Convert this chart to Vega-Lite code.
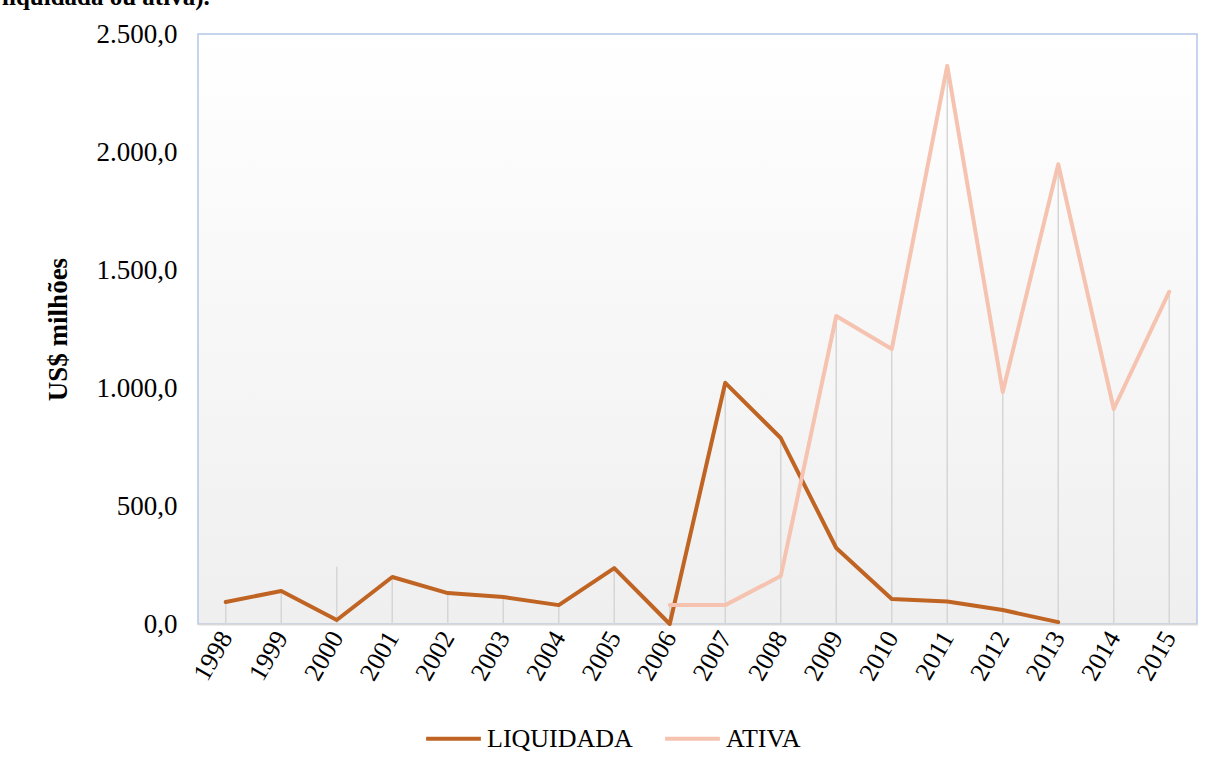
{
  "$schema": "https://vega.github.io/schema/vega-lite/v6.json",
  "autosize": "none",
  "width": 999,
  "height": 590,
  "padding": {"left": 198, "top": 34, "right": 20, "bottom": 147},
  "background": "white",
  "title": {
    "text": "liquidada ou ativa).",
    "anchor": "start",
    "frame": "group",
    "dx": -196,
    "offset": 0,
    "dy": 10,
    "baseline": "alphabetic",
    "font": "Liberation Serif",
    "fontSize": 25,
    "fontWeight": "bold",
    "color": "black"
  },
  "config": {
    "locale": {"number": {"decimal": ",", "thousands": ".", "grouping": [3], "currency": ["US$", ""]}},
    "view": {
      "stroke": "#B4C7E7",
      "strokeWidth": 1.5,
      "fill": {"gradient": "linear", "x1": 0, "y1": 0, "x2": 0, "y2": 1, "stops": [{"offset": 0, "color": "#FFFFFF"}, {"offset": 1, "color": "#EFEFEF"}]}
    },
    "font": "Liberation Serif"
  },
  "datasets": {
    "series": [
      {"ano": "1998", "serie": "LIQUIDADA", "valor": 93},
      {"ano": "1999", "serie": "LIQUIDADA", "valor": 140},
      {"ano": "2000", "serie": "LIQUIDADA", "valor": 17},
      {"ano": "2001", "serie": "LIQUIDADA", "valor": 199},
      {"ano": "2002", "serie": "LIQUIDADA", "valor": 131},
      {"ano": "2003", "serie": "LIQUIDADA", "valor": 114},
      {"ano": "2004", "serie": "LIQUIDADA", "valor": 80},
      {"ano": "2005", "serie": "LIQUIDADA", "valor": 237},
      {"ano": "2006", "serie": "LIQUIDADA", "valor": 0},
      {"ano": "2007", "serie": "LIQUIDADA", "valor": 1022},
      {"ano": "2008", "serie": "LIQUIDADA", "valor": 788},
      {"ano": "2009", "serie": "LIQUIDADA", "valor": 322},
      {"ano": "2010", "serie": "LIQUIDADA", "valor": 106},
      {"ano": "2011", "serie": "LIQUIDADA", "valor": 95},
      {"ano": "2012", "serie": "LIQUIDADA", "valor": 59},
      {"ano": "2013", "serie": "LIQUIDADA", "valor": 8},
      {"ano": "2006", "serie": "ATIVA", "valor": 80},
      {"ano": "2007", "serie": "ATIVA", "valor": 80},
      {"ano": "2008", "serie": "ATIVA", "valor": 203},
      {"ano": "2009", "serie": "ATIVA", "valor": 1305},
      {"ano": "2010", "serie": "ATIVA", "valor": 1165},
      {"ano": "2011", "serie": "ATIVA", "valor": 2365},
      {"ano": "2012", "serie": "ATIVA", "valor": 983},
      {"ano": "2013", "serie": "ATIVA", "valor": 1948},
      {"ano": "2014", "serie": "ATIVA", "valor": 911},
      {"ano": "2015", "serie": "ATIVA", "valor": 1408}
    ],
    "drops": [
      {"ano": "1998", "topo": 93},
      {"ano": "1999", "topo": 140},
      {"ano": "2000", "topo": 243},
      {"ano": "2001", "topo": 199},
      {"ano": "2002", "topo": 131},
      {"ano": "2003", "topo": 114},
      {"ano": "2004", "topo": 80},
      {"ano": "2005", "topo": 237},
      {"ano": "2006", "topo": 80},
      {"ano": "2007", "topo": 1022},
      {"ano": "2008", "topo": 788},
      {"ano": "2009", "topo": 1305},
      {"ano": "2010", "topo": 1165},
      {"ano": "2011", "topo": 2365},
      {"ano": "2012", "topo": 983},
      {"ano": "2013", "topo": 1948},
      {"ano": "2014", "topo": 911},
      {"ano": "2015", "topo": 1408}
    ]
  },
  "layer": [
    {
      "data": {"name": "drops"},
      "mark": {"type": "rule", "color": "#D6D6D6", "strokeWidth": 1.5},
      "encoding": {
        "x": {"field": "ano", "type": "ordinal", "scale": {"type": "point", "padding": 0.5}},
        "y": {"field": "topo", "type": "quantitative"},
        "y2": {"datum": 0}
      }
    },
    {
      "data": {"name": "series"},
      "mark": {"type": "line", "strokeWidth": 4, "strokeCap": "round", "strokeJoin": "round"},
      "encoding": {
        "x": {
          "field": "ano", "type": "ordinal",
          "scale": {"type": "point", "padding": 0.5},
          "title": null,
          "axis": {
            "labelAngle": -60,
            "labelFont": "Liberation Serif",
            "labelFontSize": 26,
            "labelColor": "black",
            "labelPadding": 9,
            "ticks": false,
            "domainColor": "#D9D9D9",
            "domainWidth": 2,
            "grid": false
          }
        },
        "y": {
          "field": "valor", "type": "quantitative",
          "scale": {"domain": [0, 2500], "nice": false},
          "title": "US$ milhões",
          "axis": {
            "values": [0, 500, 1000, 1500, 2000, 2500],
            "format": ",.1f",
            "labelFont": "Liberation Serif",
            "labelFontSize": 27,
            "labelColor": "black",
            "labelPadding": 21,
            "ticks": false,
            "domain": false,
            "grid": false,
            "titleFont": "Liberation Serif",
            "titleFontSize": 27,
            "titleFontWeight": "bold",
            "titleColor": "black",
            "titlePadding": 24
          }
        },
        "color": {
          "field": "serie", "type": "nominal",
          "scale": {"domain": ["LIQUIDADA", "ATIVA"], "range": ["#C06424", "#F5C3AF"]},
          "legend": {
            "title": null,
            "orient": "none",
            "direction": "horizontal",
            "legendX": 226,
            "legendY": 675,
            "symbolType": "stroke",
            "symbolSize": 3000,
            "symbolStrokeWidth": 4,
            "labelFont": "Liberation Serif",
            "labelFontSize": 26,
            "labelColor": "black",
            "labelOffset": 4,
            "columnPadding": 24
          }
        },
        "order": {"field": "ano", "type": "ordinal"}
      }
    }
  ]
}
